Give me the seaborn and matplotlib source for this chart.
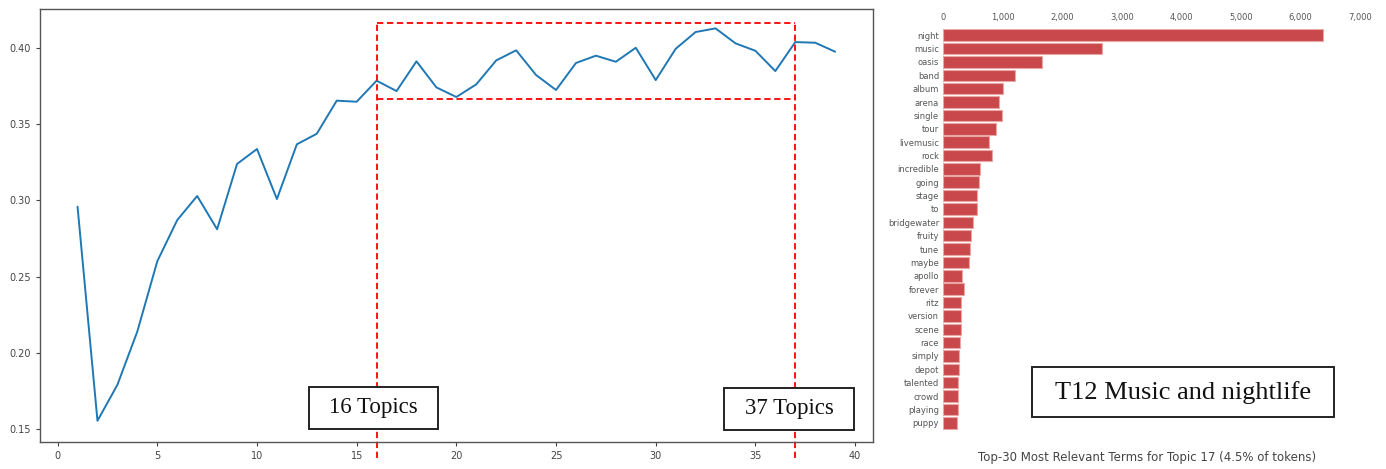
import matplotlib.pyplot as plt
import seaborn as sns
import pandas as pd
from matplotlib.patches import Rectangle

# coherence score per number of topics
num_topics = list(range(1, 40))
coherence = [0.2958, 0.1554, 0.1790, 0.2140, 0.2600, 0.2870, 0.3028, 0.2810, 0.3238, 0.3336,
             0.3008, 0.3367, 0.3436, 0.3653, 0.3646, 0.3784, 0.3716, 0.3911, 0.3740, 0.3677,
             0.3760, 0.3917, 0.3983, 0.3821, 0.3723, 0.3900, 0.3948, 0.3908, 0.4000, 0.3788,
             0.3993, 0.4103, 0.4127, 0.4029, 0.3980, 0.3847, 0.4037, 0.4033, 0.3974]

# highlighted range
range_start = 16
range_end = 37
range_low = 0.3664
range_high = 0.416

# top-30 terms for the topic
terms = ["night", "music", "oasis", "band", "album", "arena", "single", "tour", "livemusic", "rock",
         "incredible", "going", "stage", "to", "bridgewater", "fruity", "tune", "maybe", "apollo", "forever",
         "ritz", "version", "scene", "race", "simply", "depot", "talented", "crowd", "playing", "puppy"]
term_freq = [6376, 2662, 1653, 1210, 1008, 936, 992, 891, 762, 818,
             611, 594, 572, 561, 494, 460, 449, 437, 319, 348,
             303, 297, 297, 286, 269, 258, 247, 241, 241, 235]
freq_ticks = [0, 1000, 2000, 3000, 4000, 5000, 6000, 7000]


def label_box(ax, x0, y0, x1, y1, text, size, transform=None):
    tr = transform if transform is not None else ax.transData
    ax.add_patch(Rectangle((x0, y0), x1 - x0, y1 - y0, transform=tr, facecolor="white",
                           edgecolor="#222222", linewidth=1.4, zorder=5, clip_on=False))
    ax.text((x0 + x1) / 2, (y0 + y1) / 2, text, transform=tr, ha="center", va="center",
            fontsize=size, family="Liberation Serif", color="#111111", zorder=6)


def main():
    sns.set_style("ticks")
    plt.rcParams["font.family"] = ["DejaVu Sans"]

    fig = plt.figure(figsize=(13.86, 4.69), dpi=100)

    # left: coherence line
    ax = fig.add_axes([0.0289, 0.0576, 0.601, 0.9232])
    df = pd.DataFrame({"topics": num_topics, "coherence": coherence})
    sns.lineplot(data=df, x="topics", y="coherence", ax=ax, color="#1f77b4", linewidth=1.4)
    ax.set_xlabel("")
    ax.set_ylabel("")
    ax.set_xlim(-0.88, 40.9)
    ax.set_ylim(0.1415, 0.4254)
    ax.set_xticks([0, 5, 10, 15, 20, 25, 30, 35, 40])
    ax.set_yticks([0.15, 0.20, 0.25, 0.30, 0.35, 0.40])
    ax.set_yticklabels(["0.15", "0.20", "0.25", "0.30", "0.35", "0.40"])
    ax.tick_params(labelsize=7, colors="#444444", length=3, width=0.8)
    for s in ax.spines.values():
        s.set_visible(True)
        s.set_color("#555555")
        s.set_linewidth(1.0)

    red = dict(color="red", linestyle=(0, (3.5, 2)), linewidth=1.3, clip_on=False)
    ax.plot([range_start, range_end], [range_high, range_high], **red)
    ax.plot([range_start, range_end], [range_low, range_low], **red)
    ax.plot([range_start, range_start], [0.131, range_high], **red)
    ax.plot([range_end, range_end], [0.131, range_high], **red)

    label_box(ax, 12.61, 0.1500, 19.08, 0.1777, "16 Topics", 16.5)
    label_box(ax, 33.44, 0.1493, 39.94, 0.1771, "37 Topics", 16.5)

    # right: term bars
    ax2 = fig.add_axes([0.6806, 0.0842, 0.3006, 0.855])
    bars = pd.DataFrame({"term": terms, "freq": term_freq})
    sns.barplot(data=bars, x="freq", y="term", ax=ax2, color="#c9484b", saturation=1,
                width=0.86, edgecolor="#eaa5a5", linewidth=0.8)
    ax2.set_xlim(0, 7000)
    ax2.set_xticks(freq_ticks)
    ax2.set_xticklabels([f"{v:,}" for v in freq_ticks])
    ax2.xaxis.tick_top()
    ax2.set_xlabel("")
    ax2.set_ylabel("")
    ax2.tick_params(axis="x", labelsize=6, colors="#555555", length=0, pad=5)
    ax2.tick_params(axis="y", labelsize=6, colors="#555555", length=0, pad=3)
    for s in ax2.spines.values():
        s.set_visible(False)

    ax2.text(0.49, -0.0686, "Top-30 Most Relevant Terms for Topic 17 (4.5% of tokens)",
             transform=ax2.transAxes, ha="center", va="center", fontsize=8.5, color="#444444")
    label_box(ax2, 0.213, 0.031, 0.938, 0.156, "T12 Music and nightlife", 19, transform=ax2.transAxes)

    fig.savefig("out.png", dpi=100)


if __name__ == "__main__":
    main()
